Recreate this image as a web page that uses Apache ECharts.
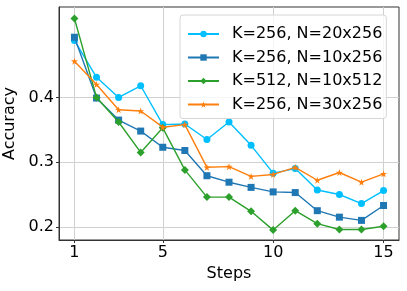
<!DOCTYPE html>
<html>
<head>
<meta charset="utf-8">
<script src="https://cdn.jsdelivr.net/npm/echarts@6/dist/echarts.min.js"></script>
<style>
html,body{margin:0;padding:0;background:#fff;}
#chart{width:407px;height:291px;}
</style>
</head>
<body>
<div id="chart"></div>
<script>
const steps = [1,2,3,4,5,6,7,8,9,10,11,12,13,14,15];
const seriesNames = ['K=256, N=20x256','K=256, N=10x256','K=512, N=10x512','K=256, N=30x256'];
const k256n20 = [0.488,0.431,0.400,0.418,0.358,0.359,0.335,0.362,0.326,0.283,0.290,0.257,0.250,0.236,0.256];
const k256n10 = [0.493,0.399,0.365,0.348,0.323,0.318,0.279,0.269,0.261,0.254,0.253,0.225,0.215,0.210,0.233];
const k512n10 = [0.522,0.400,0.362,0.315,0.353,0.288,0.246,0.246,0.224,0.195,0.225,0.205,0.196,0.196,0.201];
const k256n30 = [0.456,0.420,0.381,0.379,0.354,0.358,0.292,0.293,0.278,0.281,0.292,0.272,0.284,0.269,0.282];
const xTicks = [1,5,10,15];
const yTicks = [0.2,0.3,0.4];

const starPath = 'path://M50,0 L61.8,35.4 L99,35.4 L69,57.3 L80.4,92.7 L50,70.8 L19.6,92.7 L31,57.3 L1,35.4 L38.2,35.4 Z';
const font = 'DejaVu Sans';
const colors = ['#00bfff','#1f77b4','#2ca02c','#ff7f0e'];
const symbols = ['circle','rect','diamond',starPath];
const sizes = [7,7,8,7];
const datas = [k256n20,k256n10,k512n10,k256n30];

const chart = echarts.init(document.getElementById('chart'), null, {renderer:'canvas'});
chart.setOption({
  animation:false,
  backgroundColor:'#fff',
  color: colors,
  grid:{left:59,right:8,top:7,bottom:51,containLabel:false,outerBoundsMode:'none',show:false},
  legend:{
    left:180, top:15,
    orient:'vertical',
    itemWidth:31, itemHeight:8, itemGap:7.5,
    padding:[11,4,6,7],
    backgroundColor:'rgba(255,255,255,0.8)',
    borderColor:'#d6d6d6', borderWidth:1, borderRadius:3,
    textStyle:{fontFamily:font,fontSize:16,color:'#000',padding:[0,0,0,8]},
    data: seriesNames
  },
  xAxis:{
    type:'value', min:0.3, max:15.7,
    name:'Steps', nameLocation:'middle', nameGap:24,
    nameTextStyle:{fontFamily:font,fontSize:16,color:'#000'},
    axisLine:{show:true,onZero:false,lineStyle:{color:'#333',width:1}},
    axisTick:{show:true,length:3,customValues:xTicks,lineStyle:{color:'#333'}},
    axisLabel:{customValues:xTicks,fontFamily:font,fontSize:16,color:'#000',margin:5},
    splitLine:{show:true,lineStyle:{color:'#d0d0d0',width:1}}
  },
  yAxis:{
    type:'value', min:0.1797, max:0.5397,
    name:'Accuracy', nameLocation:'middle', nameGap:30,
    nameTextStyle:{fontFamily:font,fontSize:16,color:'#000'},
    axisLine:{show:true,onZero:false,lineStyle:{color:'#333',width:1}},
    axisTick:{show:true,length:3,customValues:yTicks,lineStyle:{color:'#333'}},
    axisLabel:{customValues:yTicks,fontFamily:font,fontSize:16,color:'#000',margin:5,
      formatter:v=>v.toFixed(1)},
    splitLine:{show:true,lineStyle:{color:'#d0d0d0',width:1}}
  },
  graphic:[{type:'rect',shape:{x:59,y:7,width:340,height:233},style:{fill:'none',stroke:'#333',lineWidth:1},z:0,silent:true}],
  series: datas.map((d,i)=>({
    name: seriesNames[i],
    type:'line',
    data: d.map((v,j)=>[steps[j],v]),
    symbol: symbols[i],
    symbolSize: sizes[i],
    showSymbol:true,
    lineStyle:{width:1.4,color:colors[i]},
    itemStyle:{color:colors[i],borderWidth:0},
    z: 2+i
  }))
});
</script>
</body>
</html>
